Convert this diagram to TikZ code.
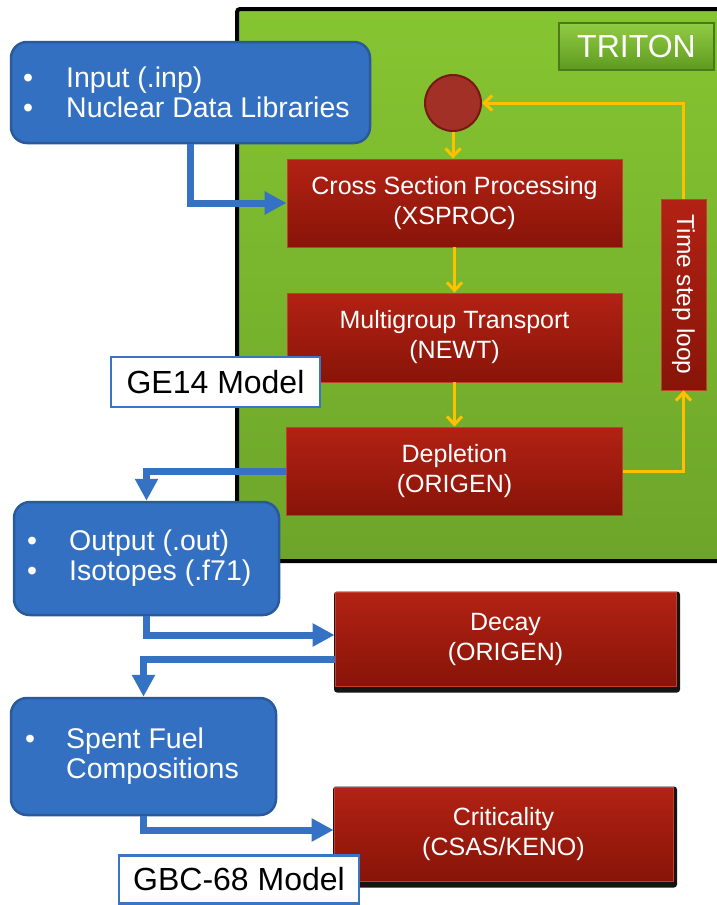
\documentclass[tikz,border=0pt]{standalone}
\usepackage{fontspec}
\setmainfont{Liberation Sans}
\usetikzlibrary{arrows.meta,calc}
\definecolor{grnTop}{HTML}{86C531}
\definecolor{grnBot}{HTML}{6DA52A}
\definecolor{tritTop}{HTML}{92CC45}
\definecolor{tritBot}{HTML}{5E9A1E}
\definecolor{redTop}{HTML}{B22214}
\definecolor{redBot}{HTML}{881408}
\definecolor{redEdge}{HTML}{C2402F}
\definecolor{blueFill}{HTML}{3370C1}
\definecolor{blueLine}{HTML}{2A5A9C}
\definecolor{blueArrow}{HTML}{3672C3}
\definecolor{yel}{HTML}{FFC000}
\definecolor{circFill}{HTML}{A33027}
\definecolor{circLine}{HTML}{76190F}
\definecolor{labLine}{HTML}{3A74C4}
\begin{document}
\begin{tikzpicture}[x=1pt,y=-1pt,
  redbox/.style={rectangle, top color=redTop, bottom color=redBot, draw=redEdge, line width=0.8pt,
    text=white, font=\fontsize{25}{30}\selectfont, align=center, inner sep=0pt},
  shadowbox/.style={rectangle, fill=black!92, rounded corners=3pt, inner sep=0pt},
  bluebox/.style={rectangle, rounded corners=16pt, fill=blueFill, draw=blueLine, line width=2.5pt, inner sep=0pt},
  bluetext/.style={text=white, font=\fontsize{28.5}{29.5}\selectfont, align=left, inner sep=0pt},
  modellabel/.style={rectangle, fill=white, draw=labLine, line width=2.5pt, text=black,
    font=\fontsize{32}{36}\selectfont, inner sep=0pt},
  bluearrow/.style={draw=blueArrow, line width=7pt, -{Triangle[length=22pt,width=22pt]}},
  yarrow/.style={draw=yel, line width=3pt, -{Straight Barb[length=8pt,width=15pt,line width=3pt]}},
]
\useasboundingbox (0,0) rectangle (717,905);

% TRITON background
\path[top color=grnTop, bottom color=grnBot] (238,9) rectangle (720,561);
\draw[line width=4pt, black, rounded corners=3pt] (730,9) -| (237,561) -- (730,561);

\node[rectangle, top color=tritTop, bottom color=tritBot, draw=tritBot!80!black, line width=1.5pt,
  minimum width=155pt, minimum height=47pt, text=white, font=\fontsize{32}{36}\selectfont, inner sep=0pt]
  (triton) at (636.5,46.5) {TRITON};

% Input box
\node[bluebox, minimum width=359pt, minimum height=101pt] (input) at (190.5,92.5) {};
\node[bluetext, anchor=west] (inputtxt) at (23,92.5)
  {\makebox[43pt][l]{\textbullet}Input (.inp)\\\makebox[43pt][l]{\textbullet}Nuclear Data Libraries};

% Loop start circle
\node[circle, minimum size=56pt, fill=circFill, draw=circLine, line width=2pt, inner sep=0pt] (start) at (453,103) {};

% Red process boxes
\node[redbox, minimum width=335pt, minimum height=88pt] (xsproc) at (454.5,203) {Cross Section Processing\\(XSPROC)};
\node[redbox, minimum width=335pt, minimum height=89pt] (newt) at (454.5,337.5) {Multigroup Transport\\(NEWT)};
\node[redbox, minimum width=336pt, minimum height=88pt] (dep) at (454.5,471) {Depletion\\(ORIGEN)};

\node[redbox, minimum width=45pt, minimum height=191pt] (loop) at (683.5,294.5) {};
\node[rotate=-90, text=white, font=\fontsize{24.5}{28}\selectfont, inner sep=0pt] (looptxt) at (loop.center) {Time step loop};

% Yellow connectors
\draw[yarrow] (start.south) -- (start.south |- xsproc.north);
\draw[yarrow] (xsproc.south) -- (newt.north);
\draw[yarrow] (newt.south) -- (dep.north);
\draw[yarrow] (dep.east) -| (loop.south);
\draw[yarrow] (loop.north) |- (start.east);

% GE14 label
\node[modellabel, minimum width=209pt, minimum height=50pt] (ge14) at (215.5,382) {GE14 Model};

% Output box
\node[bluebox, minimum width=265pt, minimum height=113pt] (output) at (146.5,558.5) {};
\node[bluetext, anchor=west] (outputtxt) at (27,558)
  {\makebox[42pt][l]{\textbullet}Output (.out)\\\makebox[42pt][l]{\textbullet}Isotopes (.f71)};

% Decay box
\node[shadowbox, minimum width=346pt, minimum height=101pt] (decayshadow) at (507,642) {};
\node[redbox, minimum width=341pt, minimum height=94pt] (decay) at (505.5,639) {Decay\\(ORIGEN)};

% Spent fuel box
\node[bluebox, minimum width=265pt, minimum height=117pt] (spent) at (143.5,756.5) {};
\node[bluetext, anchor=west] (spenttxt) at (25,756)
  {\makebox[41pt][l]{\textbullet}Spent Fuel\\\hspace*{41pt}Compositions};

% Criticality box
\node[shadowbox, minimum width=344pt, minimum height=101pt] (critshadow) at (505,837) {};
\node[redbox, minimum width=339pt, minimum height=94pt] (crit) at (503.5,834) {Criticality\\(CSAS/KENO)};

% Blue connectors
\draw[bluearrow] (input.south) -- (input.south |- xsproc.west) -- (xsproc.west);
\draw[bluearrow] (dep.west) -| (output.north);
\draw[bluearrow] (output.south) |- ($(decay.west)+(0,-4)$);
\draw[bluearrow] ($(decay.west)+(0,20)$) -| (spent.north);
\draw[bluearrow] (spent.south) |- ($(crit.west)+(0,-4)$);

% GBC-68 label
\node[modellabel, minimum width=240pt, minimum height=48pt] (gbc) at (239,879.5) {GBC-68 Model};
\end{tikzpicture}
\end{document}
